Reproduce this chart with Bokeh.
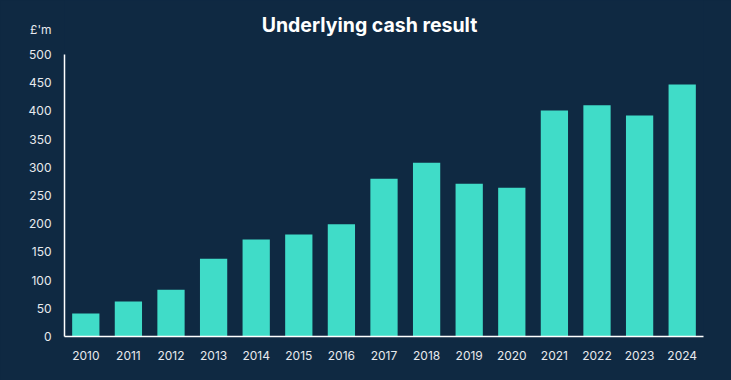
from bokeh.plotting import figure
from bokeh.models import ColumnDataSource, Label, LinearAxis, FixedTicker
from bokeh.embed import file_html
from bokeh.resources import INLINE

years = ["2010", "2011", "2012", "2013", "2014", "2015", "2016", "2017",
         "2018", "2019", "2020", "2021", "2022", "2023", "2024"]
cash = [41, 62, 83, 138, 172, 181, 199, 280, 308, 271, 264, 401, 410, 392, 447]
y_ticks = [0, 50, 100, 150, 200, 250, 300, 350, 400, 450, 500]
unit_text = "£'m"
title_text = "Underlying cash result"

BG = "#0f2942"
BAR = "#40dcc8"
TXT = "#e8eaee"
FONT = "Inter"

source = ColumnDataSource(dict(year=years, cash=cash))

p = figure(x_range=years, y_range=(0, 596), width=731, height=380,
           output_backend="svg", toolbar_location=None, y_axis_location=None,
           min_border_left=64, min_border_right=28, min_border_top=0, min_border_bottom=44)
p.x_range.range_padding = 0
p.background_fill_color = BG
p.border_fill_color = BG
p.outline_line_color = None

p.vbar(x="year", top="cash", width=0.64, source=source, color=BAR, line_color=None)

p.xgrid.grid_line_color = None
p.ygrid.grid_line_color = None

# inner axis: only the white line from 0 to 500
line_axis = LinearAxis(ticker=FixedTicker(ticks=[]), bounds=(0, 500),
                       axis_line_color="white", axis_line_width=1.5,
                       major_tick_line_color=None, minor_tick_line_color=None,
                       major_tick_in=0, major_tick_out=0, major_label_standoff=0)
# outer axis: the labels, with the unit on top
label_ticks = y_ticks + [544]
label_axis = LinearAxis(ticker=FixedTicker(ticks=label_ticks),
                        major_label_overrides={544: unit_text},
                        axis_line_color=None,
                        major_tick_line_color=None, minor_tick_line_color=None,
                        major_tick_in=0, major_tick_out=0, major_label_standoff=13,
                        major_label_text_color=TXT, major_label_text_font=FONT,
                        major_label_text_font_size="12px")
p.add_layout(line_axis, "left")
p.add_layout(label_axis, "left")

ax = p.xaxis
ax.axis_line_color = "white"
ax.axis_line_width = 1.5
ax.major_tick_line_color = None
ax.minor_tick_line_color = None
ax.major_tick_out = 0
ax.major_tick_in = 0
ax.major_label_text_color = TXT
ax.major_label_text_font = FONT
ax.major_label_text_font_size = "12px"
ax.major_label_standoff = 14

title = Label(x=305, y=312, x_units="screen", y_units="screen", text=title_text,
              text_align="center", text_baseline="middle", text_color="white",
              text_font=FONT, text_font_size="19.5px", text_font_style="bold")
p.add_layout(title)

html = file_html(p, INLINE)
html = html.replace("</head>", "<style>html,body{margin:0;padding:0;background:#0f2942;overflow:hidden}</style></head>", 1)
open("out.html", "w").write(html)
